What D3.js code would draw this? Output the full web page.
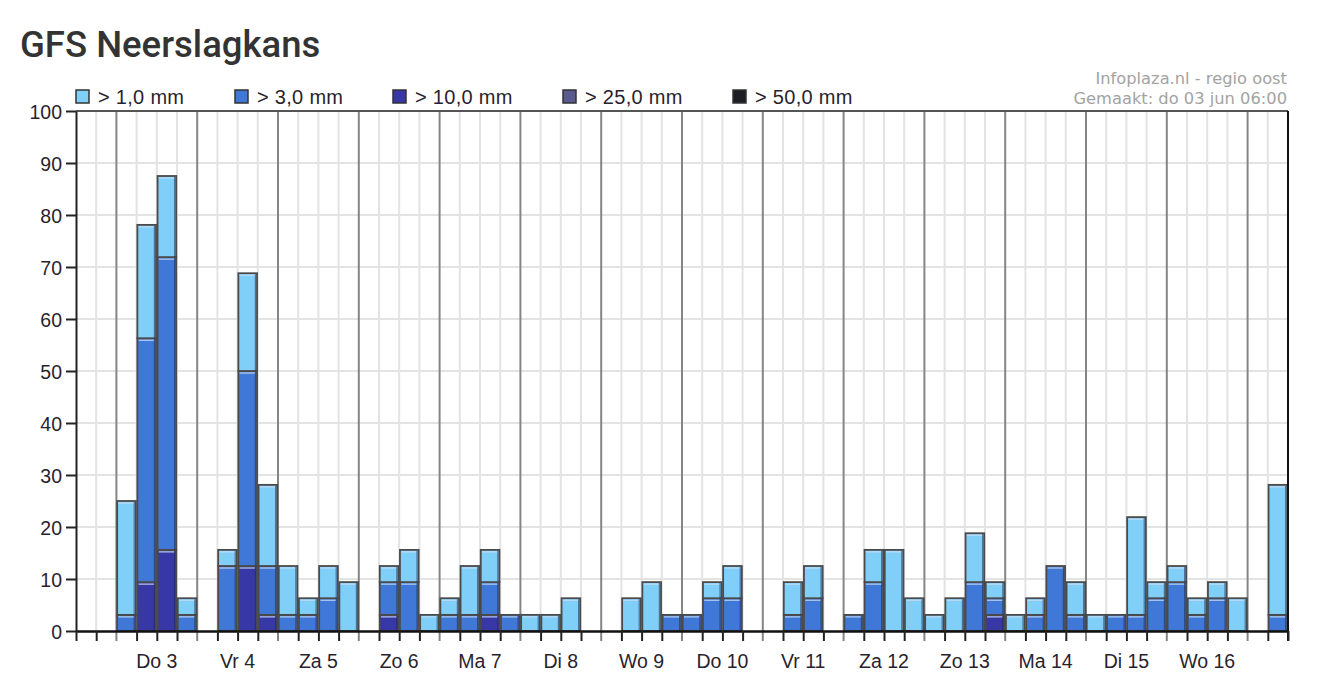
<!DOCTYPE html>
<html>
<head>
<meta charset="utf-8">
<script src="https://cdn.jsdelivr.net/npm/d3@7"></script>
<style>
  html, body { margin: 0; padding: 0; background: #fff; }
  svg { display: block; }
</style>
</head>
<body>
<svg id="chart" width="1339" height="686"></svg>
<script>
// ---------- DATA ----------
// 60 six-hour slots, starting wo 2 jun 12:00
const slotCount = 60;
const dayLabels = ["Do 3","Vr 4","Za 5","Zo 6","Ma 7","Di 8","Wo 9","Do 10","Vr 11","Za 12","Zo 13","Ma 14","Di 15","Wo 16"];
// probability (%) of precipitation exceeding the threshold, per slot
const p1 = [0,0,25,78.1,87.5,6.3, 0,15.6,68.8,28.1, 12.5,6.3,12.5,9.4, 0,12.5,15.6,3.1,
            6.3,12.5,15.6,3.1, 3.1,3.1,6.3,0, 0,6.3,9.4,3.1, 3.1,9.4,12.5,0,
            0,9.4,12.5,0, 3.1,15.6,15.6,6.3, 3.1,6.3,18.8,9.4, 3.1,6.3,12.5,9.4,
            3.1,3.1,21.9,9.4, 12.5,6.3,9.4,6.3, 0,28.1];
const p3 = [0,0,3.1,56.3,71.9,3.1, 0,12.5,50,12.5, 3.1,3.1,6.3,0, 0,9.4,9.4,0,
            3.1,3.1,9.4,3.1, 0,0,0,0, 0,0,0,3.1, 3.1,6.3,6.3,0,
            0,3.1,6.3,0, 3.1,9.4,0,0, 0,0,9.4,6.3, 0,3.1,12.5,3.1,
            0,3.1,3.1,6.3, 9.4,3.1,6.3,0, 0,3.1];
const p10 = [0,0,0,9.4,15.6,0, 0,0,12.5,3.1, 0,0,0,0, 0,3.1,0,0,
            0,0,3.1,0, 0,0,0,0, 0,0,0,0, 0,0,0,0,
            0,0,0,0, 0,0,0,0, 0,0,0,3.1, 0,0,0,0,
            0,0,0,0, 0,0,0,0, 0,0];
const p25 = new Array(60).fill(0);
const p50 = new Array(60).fill(0);
const yTicks = [0,10,20,30,40,50,60,70,80,90,100];
const legendLabels = ["> 1,0 mm","> 3,0 mm","> 10,0 mm","> 25,0 mm","> 50,0 mm"];
const colors = ["#80cff8","#3f78d6","#3737a6","#5b5a8e","#1d1d24"];
const titleText = "GFS Neerslagkans";
const sourceLines = ["Infoplaza.nl - regio oost","Gemaakt: do 03 jun 06:00"];

// ---------- LAYOUT ----------
const L = 76, R = 1288, T = 111, B = 631;
const svg = d3.select("#chart");
const x = d3.scaleLinear().domain([0, slotCount]).range([L, R]);
const y = d3.scaleLinear().domain([0, 100]).range([B, T]);
const font = "'Liberation Sans', Arial, sans-serif";

// title
svg.append("text").attr("x", 20).attr("y", 57)
  .attr("font-family", "Roboto, sans-serif").attr("font-weight", 500)
  .attr("font-size", 36.5).attr("fill", "#333").text(titleText);

// source text
sourceLines.forEach((s, i) => {
  svg.append("text").attr("x", 1287).attr("y", 84 + i * 20)
    .attr("text-anchor", "end").attr("font-family", "'DejaVu Sans', sans-serif")
    .attr("font-size", 16.3).attr("fill", "#a3a3a3").text(s);
});

// grid
const g = svg.append("g");
g.selectAll(".hg").data(yTicks.slice(1)).join("line")
  .attr("x1", L).attr("x2", R).attr("y1", d => y(d)).attr("y2", d => y(d))
  .attr("stroke", "#e3e3e3").attr("stroke-width", 2);
const slotIdx = d3.range(1, slotCount);
g.selectAll(".vg").data(slotIdx.filter(i => (i - 2) % 4 !== 0)).join("line")
  .attr("x1", d => x(d)).attr("x2", d => x(d)).attr("y1", T).attr("y2", B)
  .attr("stroke", "#e3e3e3").attr("stroke-width", 2);
g.selectAll(".dg").data(slotIdx.filter(i => (i - 2) % 4 === 0)).join("line")
  .attr("x1", d => x(d)).attr("x2", d => x(d)).attr("y1", T).attr("y2", B + 10)
  .attr("stroke", "#858585").attr("stroke-width", 2);

// bars
const bw = x(1) - x(0);
const segs = [];
for (let i = 0; i < slotCount; i++) {
  const levels = [p50[i], p25[i], p10[i], p3[i], p1[i]];
  const cols = [colors[4], colors[3], colors[2], colors[1], colors[0]];
  let base = 0;
  levels.forEach((v, k) => {
    if (v > base) { segs.push({i, y0: base, y1: v, c: cols[k]}); base = v; }
  });
}
const bars = svg.append("g");
bars.selectAll("rect").data(segs).join("rect")
  .attr("x", d => x(d.i) + 0.75).attr("width", bw - 1.5)
  .attr("y", d => y(d.y1)).attr("height", d => y(d.y0) - y(d.y1))
  .attr("fill", d => d.c).attr("stroke", "#4a4a4a").attr("stroke-width", 1.8);
// bevel highlight (top) and shadow (right)
bars.selectAll(".hl").data(segs).join("line")
  .attr("x1", d => x(d.i) + 2).attr("x2", d => x(d.i) + bw - 2.5)
  .attr("y1", d => y(d.y1) + 2).attr("y2", d => y(d.y1) + 2)
  .attr("stroke", "#c8dcf4").attr("stroke-width", 1.2).attr("opacity", 0.9);
bars.selectAll(".sh").data(segs).join("line")
  .attr("x1", d => x(d.i) + bw - 2.4).attr("x2", d => x(d.i) + bw - 2.4)
  .attr("y1", d => y(d.y1) + 1).attr("y2", d => y(d.y0))
  .attr("stroke", "#1e2a50").attr("stroke-width", 1.2).attr("opacity", 0.55);

// frame
svg.append("line").attr("x1", L).attr("x2", R).attr("y1", T).attr("y2", T)
  .attr("stroke", "#555").attr("stroke-width", 2);
svg.append("line").attr("x1", R).attr("x2", R).attr("y1", T).attr("y2", B + 10)
  .attr("stroke", "#111").attr("stroke-width", 2);

// y axis
const yAxis = svg.append("g").attr("transform", `translate(${L},0)`)
  .call(d3.axisLeft(y).tickValues(yTicks).tickSize(10).tickPadding(4).tickSizeOuter(0));
yAxis.select(".domain").attr("stroke", "#222").attr("stroke-width", 2);
yAxis.selectAll(".tick line").attr("stroke", "#222").attr("stroke-width", 2);
yAxis.selectAll("text").attr("font-family", font).attr("font-size", 19.5).attr("fill", "#2a1f2e").attr("dy", "0.36em");

// x axis (slot ticks)
const xAxis = svg.append("g").attr("transform", `translate(0,${B})`)
  .call(d3.axisBottom(x).tickValues(d3.range(0, slotCount + 1).filter(i => (i - 2) % 4 !== 0)).tickSize(10).tickFormat("").tickSizeOuter(0));
xAxis.select(".domain").attr("stroke", "#111").attr("stroke-width", 2.5);
xAxis.selectAll(".tick line").attr("stroke", "#222").attr("stroke-width", 2);

// day labels at 12:00 of each day
svg.append("g").selectAll("text").data(dayLabels).join("text")
  .attr("x", (d, k) => x(4 + 4 * k)).attr("y", 668)
  .attr("text-anchor", "middle").attr("font-family", font).attr("font-size", 19.5)
  .attr("fill", "#2a1f2e").text(d => d);

// legend
const legendX = [76, 235, 393, 563, 733];
const lg = svg.append("g");
legendLabels.forEach((t, k) => {
  lg.append("rect").attr("x", legendX[k]).attr("y", 90).attr("width", 13).attr("height", 13)
    .attr("fill", colors[k]).attr("stroke", "#333").attr("stroke-width", 1.5);
  lg.append("text").attr("x", legendX[k] + 22).attr("y", 104)
    .attr("font-family", font).attr("font-size", 20).attr("letter-spacing", 0.3)
    .attr("fill", "#2a1f2e").text(t);
});
</script>
</body>
</html>
